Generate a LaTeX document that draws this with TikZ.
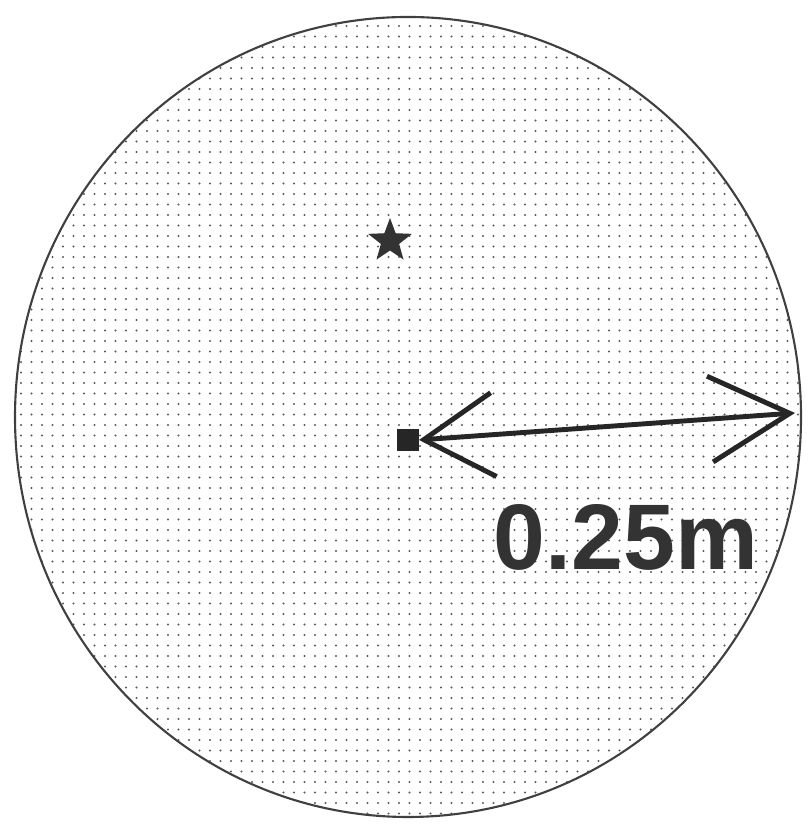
\documentclass[tikz,border=0pt]{standalone}
\usepackage{fontspec}
\setsansfont{Liberation Sans}
\usetikzlibrary{arrows.meta, shapes.geometric, patterns.meta}

\begin{document}
\begin{tikzpicture}[
    x=1cm, y=1cm,
    every node/.style={inner sep=0pt, outer sep=0pt},
    disk/.style ={ellipse, draw=black!75, line width=0.6pt,
                  pattern={Dots[distance=1.05mm, radius=0.32pt]}, pattern color=black!65,
                  minimum width=7.86cm, minimum height=8.0cm},
    centre/.style={rectangle, fill=black!85, minimum size=2.2mm},
    mark5/.style={star, star points=5, star point ratio=2.4,
                  fill=black!80, minimum size=4.6mm},
    radius/.style={{Straight Barb[length=7mm, width=8.4mm, line width=1.4pt]}-{Straight Barb[length=8mm, width=8.6mm, line width=1.4pt]},
                  line width=1.4pt, black!85},
    lbl/.style  ={font=\sffamily\bfseries\fontsize{26.5}{30}\selectfont, text=black!80},
]
\useasboundingbox (0,0) rectangle (8.07,8.24);
\node[disk]   (disk) at (4.08,4.07) {};
\node[mark5]  (star) at (3.90,5.83) {};
\node[centre] (sq)   at (4.08,3.84) {};
\coordinate   (rim)  at (7.95,4.11);
\draw[radius] (sq.east) -- (rim);
\node[lbl]    (len)  at (6.26,2.87) {0.25m};
\end{tikzpicture}
\end{document}
